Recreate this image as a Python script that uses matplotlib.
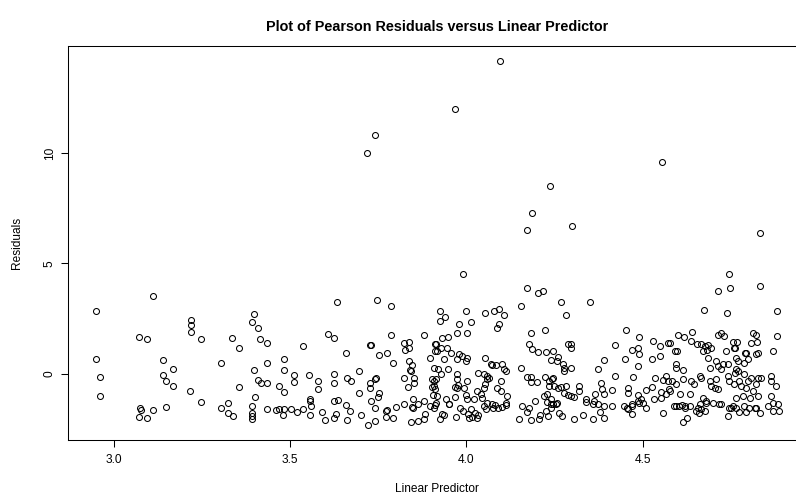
import matplotlib;
matplotlib.use("Agg");
import matplotlib.pyplot as plt;

# valeurs (predicteur lineaire, residus de Pearson)
linear_predictor = [
    # gauche, x < 3.5
    3.111, 2.948, 3.218, 3.218, 3.218, 3.071, 3.094, 3.248, 2.948, 3.139,
    3.168, 3.139, 3.148, 3.168, 2.961, 2.961, 3.215, 3.248, 3.075, 3.111,
    3.148, 3.076, 3.072, 3.093, 3.324, 3.337, 3.393, 3.393, 3.393, 3.461,
    3.398, 3.393, 3.409, 3.414, 3.435, 3.336, 3.356, 3.535, 3.304, 3.435,
    3.482, 3.397, 3.482, 3.511, 3.511, 3.552, 3.580, 3.580, 3.409, 3.416,
    3.435, 3.469, 3.482, 3.356, 3.399, 3.324, 3.304, 3.393, 3.435, 3.469,
    3.482, 3.501, 3.535, 3.556, 3.556, 3.558,
    # 3.6 - 3.9
    3.633, 3.746, 3.786, 3.607, 3.623, 3.727, 3.729, 3.786, 3.880, 3.658,
    3.751, 3.774, 3.792, 3.824, 3.838, 3.825, 3.837, 3.836, 3.845, 3.840,
    3.843, 3.911, 3.911, 3.897, 3.694, 3.623, 3.623, 3.661, 3.672, 3.727,
    3.727, 3.743, 3.741, 3.751, 3.748, 3.694, 3.824, 3.851, 3.851, 3.833,
    3.902, 3.907, 3.902, 3.911, 3.905, 3.625, 3.635, 3.658, 3.729, 3.742,
    3.774, 3.801, 3.824, 3.848, 3.846, 3.864, 3.880, 3.897, 3.909,
    # bas du nuage
    3.772, 3.772, 3.792, 3.844, 3.863, 3.849, 3.882, 3.879, 3.911, 3.925,
    3.932, 3.936, 3.950, 3.970, 3.991, 4.005, 4.015, 4.008, 4.024, 4.033,
    4.031, 4.057, 4.081, 4.090, 4.112, 4.172, 4.150, 4.182, 4.207, 4.209,
    4.226, 4.232, 4.239, 4.246, 4.256, 4.263, 4.270, 4.305,
    3.556, 3.590, 3.625, 3.630, 3.670, 3.660, 3.720, 3.740, 3.700, 3.600,
    3.520, 3.480, 4.330, 4.360, 4.380,
    4.389, 4.459, 4.471, 4.469, 4.490, 4.509, 4.557, 4.589, 4.604, 4.613,
    4.620, 4.634, 4.615, 4.626, 4.652, 4.657, 4.660, 4.667, 4.676, 4.681,
    4.717, 4.743, 4.752, 4.766, 4.774, 4.793, 4.818, 4.833, 4.870, 4.870,
    4.886,
    # 3.9 - 4.25
    3.991, 4.172, 4.203, 4.216, 4.155, 3.924, 3.938, 3.924, 3.999, 4.054,
    4.078, 4.092, 4.106, 4.087, 4.092, 3.979, 4.014, 3.974, 4.002, 3.931,
    3.948, 3.915, 3.928, 3.944, 3.955, 3.917, 3.936, 3.979, 3.988, 3.998,
    4.002, 3.974, 4.182, 4.222, 4.177, 4.187, 4.203, 4.225, 4.239, 4.246,
    4.054, 4.069, 4.073, 4.083, 4.101, 4.106, 4.111, 4.155, 4.172, 4.182,
    4.184, 4.201, 4.222, 4.234, 4.243, 4.234, 4.229, 3.908, 3.919, 3.913,
    3.908, 3.927, 3.948, 3.972, 3.974, 3.969, 3.974, 3.976, 4.002, 3.993,
    4.033, 4.050, 4.059, 4.059, 4.064, 4.054, 4.050, 4.031, 4.097, 4.087,
    4.097, 4.116, 4.158, 4.177, 4.040, 4.045, 4.059, 4.050, 4.073, 4.076,
    4.101, 4.111, 3.941, 3.950, 3.917, 3.913, 3.969, 3.998, 4.002, 4.021,
    3.983, 4.012, 4.196, 4.220, 4.229, 4.239,
    # 4.25 - 4.58
    4.268, 4.350, 4.282, 4.453, 4.490, 4.529, 4.573, 4.422, 4.471, 4.487,
    4.490, 4.549, 4.549, 4.526, 4.289, 4.296, 4.296, 4.260, 4.257, 4.273,
    4.278, 4.276, 4.298, 4.389, 4.372, 4.451, 4.486, 4.472, 4.422, 4.535,
    4.566, 4.571, 4.557, 4.528, 4.382, 4.384, 4.413, 4.366, 4.391, 4.459,
    4.459, 4.486, 4.509, 4.245, 4.249, 4.259, 4.268, 4.282, 4.277, 4.296,
    4.320, 4.320, 4.306, 4.240, 4.254, 4.287, 4.339, 4.339, 4.362, 4.358,
    4.372, 4.391, 4.414, 4.447, 4.457, 4.471, 4.486, 4.495, 4.500, 4.533,
    4.552, 4.566, 4.552, 4.576,
    # droite, x > 4.58
    4.745, 4.715, 4.748, 4.833, 4.674, 4.738, 4.881, 4.640, 4.600, 4.617,
    4.638, 4.655, 4.666, 4.677, 4.685, 4.693, 4.671, 4.683, 4.713, 4.723,
    4.730, 4.756, 4.768, 4.761, 4.737, 4.758, 4.813, 4.822, 4.808, 4.825,
    4.870, 4.882, 4.794, 4.822, 4.827, 4.577, 4.591, 4.598, 4.596, 4.596,
    4.615, 4.582, 4.596, 4.615, 4.685, 4.709, 4.713, 4.723, 4.728, 4.692,
    4.741, 4.765, 4.765, 4.761, 4.770, 4.791, 4.789, 4.799, 4.789, 4.770,
    4.836, 4.865, 4.865, 4.879, 4.638, 4.647, 4.662, 4.666, 4.694, 4.704,
    4.690, 4.713, 4.708, 4.741, 4.746, 4.760, 4.774, 4.779, 4.798, 4.793,
    4.808, 4.827, 4.822, 4.813, 4.577, 4.606, 4.634, 4.671, 4.699, 4.723,
    4.766, 4.785, 4.804, 4.827, 4.746, 4.755, 4.789, 4.803, 4.822, 4.855,
    4.865, 4.884, 4.596, 4.620, 4.662, 4.681,
    # points isoles en haut
    3.718, 3.740, 3.967, 4.095, 4.237, 4.299, 4.186, 4.172, 4.555, 4.833,
];

residuals = [
    3.50, 2.82, 2.43, 2.20, 1.91, 1.68, 1.58, 1.55, 0.65, 0.62,
    0.23, -0.05, -0.35, -0.57, -0.14, -1.01, -0.80, -1.27, -1.55, -1.66,
    -1.51, -1.64, -1.97, -2.03, -1.77, -1.92, -1.77, -1.92, -2.07, -1.66,
    2.70, 2.36, 2.05, 1.59, 1.40, 1.61, 1.17, 1.25, 0.49, 0.47,
    0.65, 0.17, 0.15, -0.07, -0.36, -0.05, -0.33, -0.71, -0.30, -0.41,
    -0.44, -0.56, -0.82, -0.59, -1.05, -1.32, -1.55, -1.47, -1.59, -1.59,
    -1.59, -1.59, -1.59, -1.16, -1.25, -1.47,
    3.24, 3.36, 3.05, 1.79, 1.61, 1.30, 1.28, 1.76, 1.75, 0.95,
    0.84, 0.93, 0.47, 1.40, 1.44, 1.08, 1.15, 0.55, 0.40, 0.17,
    0.12, 1.35, 1.03, 0.70, 0.12, 0.00, -0.41, -0.18, -0.33, -0.41,
    -0.66, -0.18, -0.26, -0.86, -1.06, -0.86, -0.21, -0.18, -0.41, -0.60,
    -0.26, -0.33, -0.60, -0.71, -0.98, -1.24, -1.21, -1.44, -1.24, -1.55,
    -1.66, -1.51, -1.39, -1.14, -1.50, -1.39, -1.24, -1.47, -1.57,
    -1.70, -1.95, -2.00, -2.20, -2.15, -1.55, -1.85, -2.05, -1.42, -2.07,
    -1.82, -1.88, -1.39, -1.97, -1.70, -1.82, -1.97, -2.03, -1.77, -1.88,
    -2.00, -1.62, -1.42, -1.55, -1.42, -1.74, -2.07, -2.10, -2.07, -1.88,
    -1.70, -1.92, -1.39, -1.39, -1.32, -1.77, -1.92, -2.07,
    -1.90, -1.75, -2.00, -1.85, -1.70, -2.10, -2.35, -2.15, -1.90, -2.10,
    -1.75, -1.90, -1.90, -2.05, -1.75,
    -2.00, -1.62, -1.82, -1.47, -1.32, -1.57, -1.77, -1.47, -1.47, -1.42,
    -1.55, -1.47, -2.18, -2.00, -1.70, -1.55, -1.77, -1.62, -1.70, -1.32,
    -1.36, -1.92, -1.55, -1.55, -1.74, -1.74, -1.57, -1.77, -1.32, -1.70,
    -1.70,
    4.52, 3.88, 3.65, 3.76, 3.08, 2.85, 2.55, 2.40, 2.85, 2.74,
    2.85, 2.93, 2.67, 2.09, 2.25, 2.27, 2.36, 1.82, 1.84, 1.61,
    1.64, 1.36, 1.18, 1.15, 0.95, 1.03, 0.65, 0.88, 0.80, 0.58,
    0.70, 0.65, 1.84, 1.97, 1.36, 1.11, 0.99, 0.99, 0.62, 1.03,
    0.70, 0.43, 0.38, 0.38, 0.43, 0.20, 0.12, 0.25, -0.15, -0.15,
    -0.36, -0.36, -0.15, -0.33, -0.26, -0.56, -0.94, 0.27, 0.20, -0.26,
    -0.56, -0.03, 0.20, -0.03, -0.26, -0.60, -0.64, -0.51, -0.33, -0.64,
    0.05, -0.03, -0.10, -0.26, -0.21, -0.48, -0.66, -0.79, -0.33, -0.64,
    -0.79, -1.01, -1.47, -1.55, -0.94, -1.09, -1.32, -1.47, -1.39, -1.55,
    -1.51, -1.32, -1.16, -1.36, -1.01, -1.32, -1.06, -0.97, -1.16, -1.14,
    -1.55, -1.59, -1.24, -1.01, -1.27, -1.55,
    3.23, 3.27, 2.68, 1.96, 1.67, 1.50, 1.40, 1.29, 1.08, 1.14,
    0.88, 1.25, 0.79, 0.67, 1.34, 1.15, 1.36, 0.76, 0.55, 0.45,
    0.27, 0.12, 0.26, 0.61, 0.20, 0.65, 0.35, -0.15, -0.10, -0.21,
    -0.10, -0.33, -0.30, -0.59, -0.41, -0.68, -0.74, -0.94, -0.91, -0.64,
    -0.86, -0.97, -0.76, -0.18, -0.56, -0.64, -0.60, -0.56, -0.86, -1.01,
    -0.56, -0.79, -1.06, -1.16, -1.36, -0.97, -1.16, -1.27, -1.24, -1.39,
    -1.39, -1.47, -1.47, -1.47, -1.55, -1.39, -1.24, -1.16, -1.32, -1.16,
    -0.82, -0.94, -1.09, -0.71,
    4.52, 3.73, 3.88, 3.97, 2.90, 2.75, 2.84, 1.91, 1.75, 1.64,
    1.49, 1.34, 1.34, 1.26, 1.30, 1.18, 1.03, 1.06, 1.75, 1.84,
    1.70, 1.45, 1.45, 1.18, 1.03, 1.15, 1.84, 1.76, 1.41, 1.45,
    1.03, 1.71, 0.95, 0.88, 0.95, 1.41, 1.03, 1.03, 0.43, 0.27,
    0.15, -0.33, -0.48, -0.26, 0.73, 0.58, 0.35, 0.20, 0.43, 0.27,
    0.45, 0.70, 0.20, 0.05, 0.58, 0.95, 0.50, 0.65, -0.03, 0.12,
    -0.18, -0.10, -0.33, -0.56, -0.33, -0.48, -0.10, -0.18, -0.56, -0.64,
    -0.33, -0.71, -0.26, -0.10, -0.33, -0.48, -0.33, -0.56, -0.33, -0.64,
    -0.18, -0.18, -0.48, -0.79, -0.79, -0.94, -0.94, -1.09, -1.32, -1.39,
    -1.09, -1.01, -1.09, -1.01, -1.55, -1.47, -1.47, -1.55, -1.55, -1.47,
    -1.01, -1.39, -1.47, -1.47, -1.39, -1.24,
    9.99, 10.84, 12.00, 14.20, 8.50, 6.70, 7.30, 6.50, 9.60, 6.40,
];

x_ticks = [3.0, 3.5, 4.0, 4.5];
y_ticks = [0, 5, 10];

plt.rcParams['font.family'] = ['Liberation Sans', 'DejaVu Sans'];

W, H = 796, 501;
fig = plt.figure(figsize=(W / 100, H / 100), dpi=100);
# zone de trace comme R (la boite deborde a droite dans l'original)
ax = fig.add_axes([68.3 / W, (H - 440) / H, (806 - 68.3) / W, (440 - 46) / H]);

ax.plot(linear_predictor, residuals, 'o', ls='none', mfc='none', mec='black', ms=4.3, mew=0.75);

# marges de 4% comme plot() dans R
xmin, xmax = min(linear_predictor), max(linear_predictor);
ymin, ymax = min(residuals), max(residuals);
ax.set_xlim(xmin - 0.04 * (xmax - xmin), xmax + 0.04 * (xmax - xmin));
ax.set_ylim(ymin - 0.04 * (ymax - ymin), ymax + 0.04 * (ymax - ymin));

ax.set_xticks(x_ticks);
ax.set_xticklabels([f"{t:.1f}" for t in x_ticks]);
ax.set_yticks(y_ticks);
ax.set_yticklabels([str(t) for t in y_ticks], rotation=90, va='center');
ax.tick_params(direction='out', length=5, width=0.75, labelsize=8.6, color='black');
ax.tick_params(axis='x', pad=5);
ax.tick_params(axis='y', pad=4);
for s in ax.spines.values():
    s.set_linewidth(0.75);
    s.set_color('black');

cx = (68.3 + 806) / 2 / W;
fig.text(cx, 1 - 27 / H, "Plot of Pearson Residuals versus Linear Predictor", ha='center', va='center', fontsize=10.4, fontweight='bold');
fig.text(cx, 1 - 489 / H, "Linear Predictor", ha='center', va='center', fontsize=8.6);
fig.text(17 / W, 1 - 243 / H, "Residuals", ha='center', va='center', rotation=90, fontsize=8.6);

fig.savefig('out.png', dpi=100);
